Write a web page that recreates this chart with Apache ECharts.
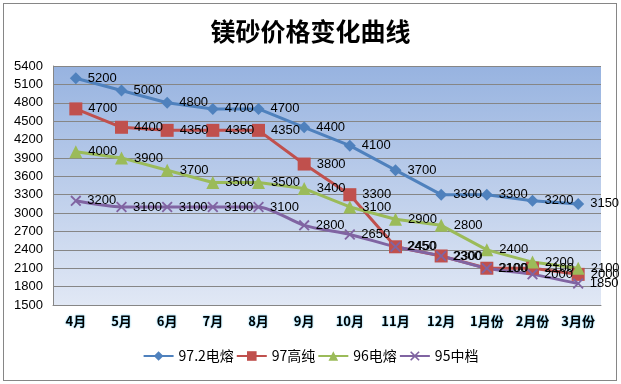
<!DOCTYPE html>
<html>
<head>
<meta charset="utf-8">
<script src="https://cdn.jsdelivr.net/npm/echarts@6/dist/echarts.min.js"></script>
<style>
html,body{margin:0;padding:0;background:#fff;}
#frame{position:absolute;left:3px;top:3px;width:612px;height:376px;border:1px solid #868686;box-sizing:content-box;}
#chart{position:absolute;left:0;top:0;width:621px;height:384px;}
</style>
</head>
<body>
<div id="frame"></div>
<div id="chart"></div>
<script>
const categories = ['4月','5月','6月','7月','8月','9月','10月','11月','12月','1月份','2月份','3月份'];
const s972 = [5200,5000,4800,4700,4700,4400,4100,3700,3300,3300,3200,3150];
const s97  = [4700,4400,4350,4350,4350,3800,3300,2450,2300,2100,2100,2000];
const s96  = [4000,3900,3700,3500,3500,3400,3100,2900,2800,2400,2200,2100];
const s95  = [3200,3100,3100,3100,3100,2800,2650,2450,2300,2100,2000,1850];
const names = ['97.2电熔','97高纯','96电熔','95中档'];
const yMin = 1500, yMax = 5400, yStep = 300;

const xSym = 'path://M0,1.2L1.2,0L5,3.8L8.8,0L10,1.2L6.2,5L10,8.8L8.8,10L5,6.2L1.2,10L0,8.8L3.8,5Z';
const label = {show:true, position:'right', distance:6, color:'#000', fontSize:13, fontFamily:'Liberation Sans, Arial, sans-serif'};
function mk(name, data, color, symbol, size, smooth){
  return {name, type:'line', data, symbol, symbolSize:size, smooth:smooth||false,
    lineStyle:{color, width:3}, itemStyle:{color}, label, labelLayout:{hideOverlap:false}, z:2, animation:false};
}
const chart = echarts.init(document.getElementById('chart'));
chart.setOption({
  animation:false,
  title:{text:'镁砂价格变化曲线', left:'center', top:14,
    textStyle:{fontSize:25, fontWeight:'bold', color:'#000', fontFamily:'Noto Sans CJK SC'}},
  grid:{left:53, right:20, top:66, bottom:79, show:true, borderWidth:0,
    backgroundColor:new echarts.graphic.LinearGradient(0,0,0,1,[{offset:0,color:'#97b3e0'},{offset:1,color:'#e1e8f5'}])},
  legend:{bottom:16, left:'center', itemWidth:30, itemHeight:12, itemGap:2,
    textStyle:{fontSize:14, color:'#000', fontFamily:'Noto Sans CJK SC'}, data:names},
  xAxis:{type:'category', data:categories, boundaryGap:true,
    axisLine:{lineStyle:{color:'#868686', width:1}}, axisTick:{show:false},
    axisLabel:{interval:0, color:'#000', fontSize:13, fontWeight:'bold', margin:10, fontFamily:'Noto Sans CJK SC',
      textShadowColor:'rgba(0,170,240,0.7)', textShadowBlur:2}},
  yAxis:{type:'value', min:yMin, max:yMax, interval:yStep,
    axisLine:{show:true, lineStyle:{color:'#868686'}}, axisTick:{show:false},
    splitLine:{lineStyle:{color:'#868686', width:1}},
    axisLabel:{color:'#000', fontSize:13, margin:10, fontFamily:'Liberation Sans, Arial, sans-serif',
      formatter:v=>String(v)}},
  series:[
    mk(names[0], s972, '#4f81bd', 'diamond', 12),
    mk(names[1], s97, '#c0504d', 'rect', 13),
    mk(names[2], s96, '#9bbb59', 'triangle', 13),
    mk(names[3], s95, '#8064a2', xSym, 11, 0.25)
  ]
});
</script>
</body>
</html>
